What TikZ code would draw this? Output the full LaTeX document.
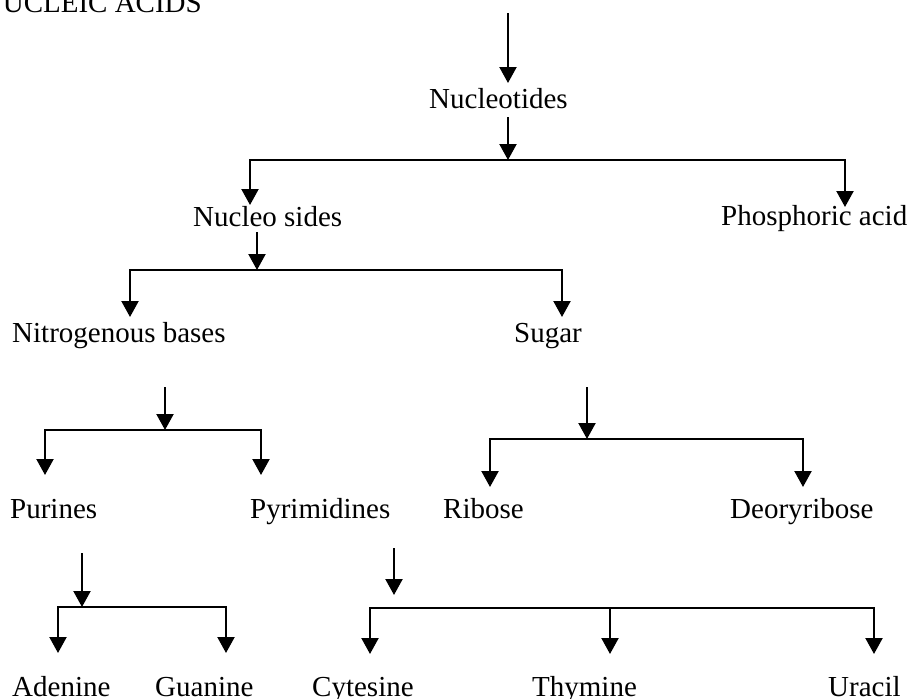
\documentclass[tikz,border=0pt]{standalone}
\usepackage{fontspec}
\setmainfont{Liberation Serif}
\usetikzlibrary{arrows.meta}

\begin{document}
\begin{tikzpicture}[
    x=1pt, y=-1pt,
    every node/.style={inner sep=0pt, anchor=base west, font=\fontsize{29}{34}\selectfont},
    link/.style={line width=2.2pt},
    tip/.style={link, -{Triangle[width=17pt,length=16pt]}}
  ]
  \useasboundingbox (0,0) rectangle (911,699);
  \clip (0,0) rectangle (911,699);

  % labels
  \node[anchor=base east] (title) at (202,12) {NUCLEIC ACIDS};
  \node (nucleotides) at (429,108) {Nucleotides};
  \node (nucleosides) at (193,226) {Nucleo sides};
  \node (phosphoric)  at (721,225) {Phosphoric acid};
  \node (nitrogenous) at (12,342)  {Nitrogenous bases};
  \node (sugar)       at (514,342) {Sugar};
  \node (purines)     at (10,518)  {Purines};
  \node (pyrimidines) at (250,518) {Pyrimidines};
  \node (ribose)      at (443,518) {Ribose};
  \node (deoxy)       at (730,518) {Deoryribose};
  \node (adenine)     at (12,696)  {Adenine};
  \node (guanine)     at (155,696) {Guanine};
  \node (cytesine)    at (312,696) {Cytesine};
  \node (thymine)     at (532,696) {Thymine};
  \node (uracil)      at (828,696) {Uracil};

  % arrow ends and branch points
  \coordinate (top)     at (508,13);
  \coordinate (nt-in)   at (508,83);
  \coordinate (nt-out)  at (508,117);
  \coordinate (j1)      at (508,160);
  \coordinate (ns-in)   at (250,205);
  \coordinate (pa-in)   at (845,207);

  \coordinate (ns-out)  at (257,232);
  \coordinate (j2)      at (257,270);
  \coordinate (nb-in)   at (130,317);
  \coordinate (su-in)   at (562,317);

  \coordinate (nb-out)  at (165,387);
  \coordinate (j3)      at (165,430);
  \coordinate (pu-in)   at (45,475);
  \coordinate (py-in)   at (261,475);

  \coordinate (su-out)  at (587,387);
  \coordinate (j4)      at (587,439);
  \coordinate (ri-in)   at (490,487);
  \coordinate (de-in)   at (803,487);

  \coordinate (pu-out)  at (82,553);
  \coordinate (j5)      at (82,607);
  \coordinate (ad-in)   at (58,653);
  \coordinate (gu-in)   at (226,653);

  \coordinate (py-out)  at (394,548);
  \coordinate (py-end)  at (394,595);
  \coordinate (j6)      at (394,608);
  \coordinate (cy-in)   at (370,654);
  \coordinate (th-in)   at (610,654);
  \coordinate (ur-in)   at (874,654);

  % nucleic acids -> nucleotides
  \draw[tip] (top) -- (nt-in);
  \draw[tip] (nt-out) -- (j1);
  \draw[tip] (j1) -| (ns-in);
  \draw[tip] (j1) -| (pa-in);

  % nucleosides
  \draw[tip] (ns-out) -- (j2);
  \draw[tip] (j2) -| (nb-in);
  \draw[tip] (j2) -| (su-in);

  % nitrogenous bases
  \draw[tip] (nb-out) -- (j3);
  \draw[tip] (j3) -| (pu-in);
  \draw[tip] (j3) -| (py-in);

  % sugar
  \draw[tip] (su-out) -- (j4);
  \draw[tip] (j4) -| (ri-in);
  \draw[tip] (j4) -| (de-in);

  % purines
  \draw[tip] (pu-out) -- (j5);
  \draw[tip] (j5) -| (ad-in);
  \draw[tip] (j5) -| (gu-in);

  % pyrimidines
  \draw[tip] (py-out) -- (py-end);
  \draw[tip] (j6) -| (cy-in);
  \draw[tip] (j6) -| (th-in);
  \draw[tip] (j6) -| (ur-in);
\end{tikzpicture}
\end{document}
